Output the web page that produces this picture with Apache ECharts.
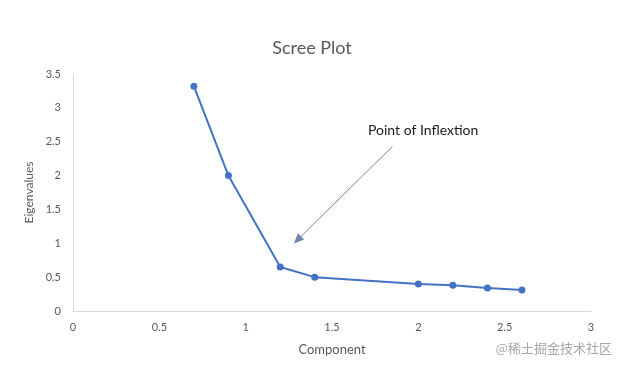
<!DOCTYPE html>
<html>
<head>
<meta charset="utf-8">
<script src="https://cdn.jsdelivr.net/npm/echarts@6/dist/echarts.min.js"></script>
<style>
  html, body { margin: 0; padding: 0; background: #fff; }
  #chart { width: 624px; height: 372px; }
</style>
</head>
<body>
<div id="chart"></div>
<script>
// component / eigenvalue pairs
var components = [0.7, 0.9, 1.2, 1.4, 2.0, 2.2, 2.4, 2.6];
var eigenvalues = [3.32, 2.0, 0.65, 0.5, 0.4, 0.38, 0.34, 0.31];
// annotation arrow, in data units: [start, end]
var arrowFrom = [1.85, 2.43];
var arrowTo = [1.30, 1.05];

var points = components.map(function (c, i) { return [c, eigenvalues[i]]; });
var font = "Lato, 'Open Sans', sans-serif";

var chart = echarts.init(document.getElementById("chart"));
chart.setOption({
  animation: false,
  title: {
    text: "Scree Plot",
    left: "center",
    top: 34,
    textStyle: { fontFamily: font, fontSize: 18, fontWeight: "normal", color: "#595959" },
  },
  grid: { left: 73, right: 33, top: 74, bottom: 61 },
  xAxis: {
    type: "value",
    min: 0,
    max: 3,
    interval: 0.5,
    name: "Component",
    nameLocation: "middle",
    nameGap: 32,
    nameTextStyle: { fontFamily: font, fontSize: 13, color: "#595959" },
    axisLine: { show: true, lineStyle: { color: "#d9d9d9", width: 1 } },
    axisTick: { show: false },
    splitLine: { show: false },
    axisLabel: { fontFamily: font, fontSize: 11, color: "#595959", margin: 11 },
  },
  yAxis: {
    type: "value",
    min: 0,
    max: 3.5,
    interval: 0.5,
    name: "Eigenvalues",
    nameLocation: "middle",
    nameGap: 38,
    nameTextStyle: { fontFamily: font, fontSize: 12, color: "#595959" },
    axisLine: { show: true, lineStyle: { color: "#d9d9d9", width: 1 } },
    axisTick: { show: false },
    splitLine: { show: false },
    axisLabel: { fontFamily: font, fontSize: 11, color: "#595959", margin: 12 },
  },
  series: [
    {
      type: "line",
      data: points,
      symbol: "circle",
      symbolSize: 7,
      lineStyle: { color: "#4472c4", width: 2 },
      itemStyle: { color: "#4472c4" },
      markLine: {
        silent: true,
        symbol: ["none", "triangle"],
        symbolSize: [9, 10],
        lineStyle: { color: "#6f86b0", width: 1, type: "solid" },
        label: { show: false },
        data: [[{ coord: arrowFrom }, { coord: arrowTo }]],
      },
    },
  ],
  graphic: [
    {
      type: "text",
      left: 368,
      top: 123,
      style: { text: "Point of Inflextion", fontFamily: font, fontSize: 14, fill: "#1a1a1a" },
    },
    {
      type: "text",
      right: 12,
      top: 342,
      style: { text: "@稀土掘金技术社区", fontFamily: "'Noto Sans CJK SC', sans-serif", fontSize: 13, fill: "#a6a6a6" },
    },
  ],
});
</script>
</body>
</html>
